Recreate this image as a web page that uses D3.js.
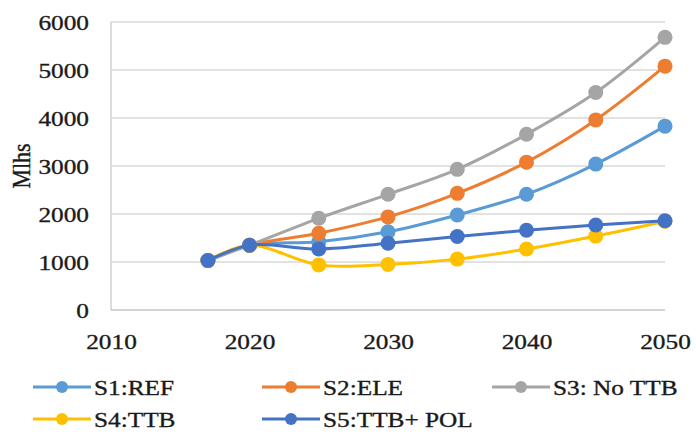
<!DOCTYPE html>
<html>
<head>
<meta charset="utf-8">
<script src="https://cdn.jsdelivr.net/npm/d3@7"></script>
<style>
  html, body { margin: 0; padding: 0; background: #fff; }
  svg { display: block; }
  text { font-family: "Liberation Serif", "Times New Roman", serif; fill: #1a1a1a; stroke: #1a1a1a; stroke-width: 0.35px; }
</style>
</head>
<body>
<svg id="chart" width="696" height="438"></svg>
<script>
const years = [2017, 2020, 2025, 2030, 2035, 2040, 2045, 2050];
const seriesNames = ["S1:REF", "S2:ELE", "S3: No TTB", "S4:TTB", "S5:TTB+ POL"];
const s1 = [1030, 1350, 1420, 1630, 1980, 2410, 3040, 3830];
const s2 = [1030, 1350, 1600, 1940, 2430, 3080, 3960, 5080];
const s3 = [1030, 1350, 1910, 2410, 2930, 3660, 4530, 5680];
const s4 = [1030, 1350, 940, 950, 1060, 1270, 1540, 1850];
const s5 = [1030, 1350, 1270, 1390, 1530, 1660, 1770, 1860];
const seriesColors = ["#5B9BD5", "#ED7D31", "#A5A5A5", "#FFC000", "#4472C4"];
const xTicks = [2010, 2020, 2030, 2040, 2050];
const yTicks = [0, 1000, 2000, 3000, 4000, 5000, 6000];
const yLabel = "Mlhs";

const allSeries = [s1, s2, s3, s4, s5];
const svg = d3.select("#chart");
const SX = 1.15;

const x = d3.scaleLinear().domain([2010, 2050]).range([111, 665]);
const y = d3.scaleLinear().domain([0, 6000]).range([310, 22]);

// gridlines
svg.append("g").selectAll("line").data(yTicks.filter(d => d > 0)).join("line")
  .attr("x1", x(2010)).attr("x2", x(2050))
  .attr("y1", d => y(d)).attr("y2", d => y(d))
  .attr("stroke", "#d9d9d9").attr("stroke-width", 1.5);

// axes lines
svg.append("line").attr("x1", x(2010)).attr("x2", x(2010)).attr("y1", y(6000)).attr("y2", y(0))
  .attr("stroke", "#d0d0d0").attr("stroke-width", 1.5);
svg.append("line").attr("x1", x(2010)).attr("x2", x(2050)).attr("y1", y(0)).attr("y2", y(0))
  .attr("stroke", "#c4c4c4").attr("stroke-width", 1.5);

// y axis
const yAxis = svg.append("g").attr("transform", `translate(${x(2010)},0)`)
  .call(d3.axisLeft(y).tickValues(yTicks).tickSize(0).tickPadding(0).tickFormat(d3.format("d")));
yAxis.select(".domain").remove();
yAxis.selectAll("text")
  .attr("x", 0).attr("dy", "0.35em")
  .attr("transform", `translate(-22,0) scale(${SX},1)`)
  .style("font-size", "22px").style("font-family", "Liberation Serif").attr("fill", "#1a1a1a");

// x axis
const xAxis = svg.append("g").attr("transform", `translate(0,${y(0)})`)
  .call(d3.axisBottom(x).tickValues(xTicks).tickSize(0).tickPadding(0).tickFormat(d3.format("d")));
xAxis.select(".domain").remove();
xAxis.selectAll("text")
  .attr("y", 0).attr("dy", 0)
  .attr("transform", `translate(0,39) scale(${SX},1)`)
  .style("font-size", "22px").style("font-family", "Liberation Serif").attr("fill", "#1a1a1a");

// y label
svg.append("text")
  .attr("transform", `translate(30,${(y(0)+y(6000))/2}) rotate(-90) scale(1,1.15)`)
  .attr("text-anchor", "middle")
  .style("font-size", "22px")
  .text(yLabel);

// lines
const line = d3.line()
  .x((d, i) => x(years[i]))
  .y(d => y(d))
  .curve(d3.curveCatmullRom.alpha(0.5));

allSeries.forEach((vals, si) => {
  const g = svg.append("g");
  g.append("path").datum(vals)
    .attr("d", line)
    .attr("fill", "none")
    .attr("stroke", seriesColors[si])
    .attr("stroke-width", 3);
  g.selectAll("circle").data(vals).join("circle")
    .attr("cx", (d, i) => x(years[i]))
    .attr("cy", d => y(d))
    .attr("r", 7.5)
    .attr("fill", seriesColors[si]);
});

// legend
const legendPos = [
  {lx: 33, ly: 387}, {lx: 262, ly: 387}, {lx: 492, ly: 387},
  {lx: 33, ly: 419}, {lx: 262, ly: 419}
];
seriesNames.forEach((name, i) => {
  const p = legendPos[i];
  const g = svg.append("g").attr("transform", `translate(${p.lx},${p.ly})`);
  g.append("line").attr("x1", 0).attr("x2", 58).attr("y1", 0).attr("y2", 0)
    .attr("stroke", seriesColors[i]).attr("stroke-width", 3);
  g.append("circle").attr("cx", 29).attr("cy", 0).attr("r", 6).attr("fill", seriesColors[i]);
  g.append("text")
    .attr("transform", `translate(61,8) scale(${SX},1)`)
    .style("font-size", "22px")
    .text(name);
});
</script>
</body>
</html>
